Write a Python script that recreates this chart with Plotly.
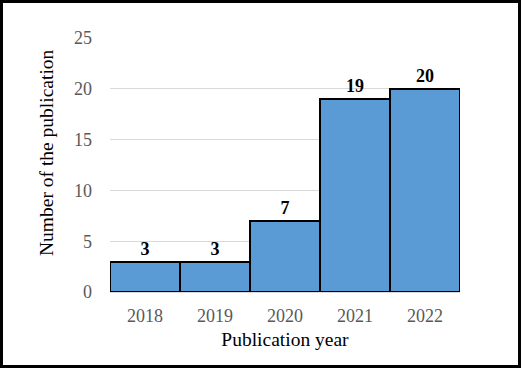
import plotly.graph_objects as go

years = ["2018", "2019", "2020", "2021", "2022"]
counts = [3, 3, 7, 19, 20]

fig = go.Figure()
fig.add_trace(go.Bar(
    x=years, y=counts,
    marker=dict(color="#5B9BD5", line=dict(color="black", width=2)),
    text=[str(c) for c in counts],
    textposition="outside",
    textfont=dict(family="Liberation Serif", size=18, color="black", weight="bold"),
    cliponaxis=False,
))

l, r, t, b = 110, 61, 38, 76
W, H = 521, 368
pw, ph = W - l - r, H - t - b

fig.update_layout(
    width=W, height=H,
    margin=dict(l=l, r=r, t=t, b=b),
    bargap=0,
    plot_bgcolor="white", paper_bgcolor="white",
    showlegend=False,
    font=dict(family="Liberation Serif", size=18, color="black"),
    xaxis=dict(
        title=dict(text="Publication year", font=dict(size=19.5, color="black"), standoff=7),
        tickfont=dict(size=18, color="#595959"),
        showline=True, linecolor="#D9D9D9", linewidth=1,
        ticks="", ticklabelstandoff=7,
    ),
    yaxis=dict(
        range=[0, 25], dtick=5,
        tickfont=dict(size=18, color="#595959"),
        showgrid=True, gridcolor="#D9D9D9", gridwidth=1,
        zeroline=False, ticks="", ticklabelstandoff=17,
    ),
    # y title placed by hand: it sits a bit above the plot centre in the original
    annotations=[dict(
        text="Number of the publication", textangle=-90,
        xref="paper", yref="paper", x=(46 - l) / pw, y=(H - b - 153) / ph,
        xanchor="center", yanchor="middle",
        showarrow=False, font=dict(size=19.5, color="black"),
    )],
    shapes=[dict(
        type="rect", xref="paper", yref="paper",
        x0=(-l + 1.5) / pw, x1=1 + (r - 1.5) / pw,
        y0=(-b + 1.5) / ph, y1=1 + (t - 1.5) / ph,
        line=dict(color="black", width=3),
    )],
)

fig.write_html("out.html", config={"displayModeBar": False},
               post_script="document.body.style.margin='0';")
